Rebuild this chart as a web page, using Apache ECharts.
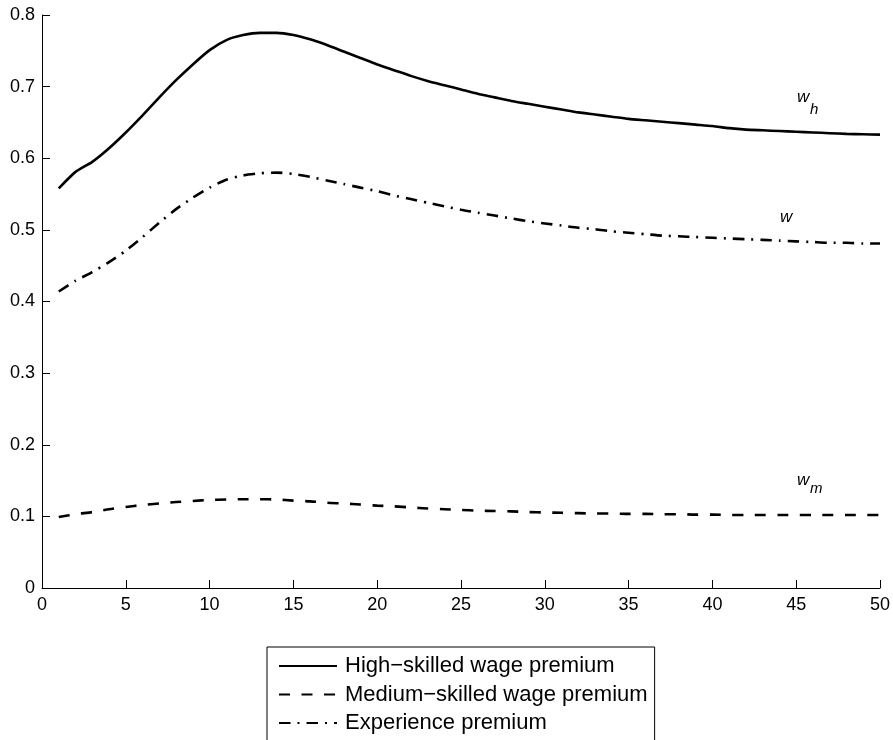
<!DOCTYPE html>
<html>
<head>
<meta charset="utf-8">
<script src="https://cdn.jsdelivr.net/npm/echarts@6/dist/echarts.min.js"></script>
<style>
html,body{margin:0;padding:0;background:#fff;}
#chart{width:893px;height:740px;}
</style>
</head>
<body>
<div id="chart"></div>
<script>
var years = [1,2,3,4,5,6,7,8,9,10,11,12,13,14,15,16,17,18,19,20,21,22,23,24,25,26,27,28,29,30,31,32,33,34,35,36,37,38,39,40,41,42,43,44,45,46,47,48,49,50];

var highSkilled = [0.558,0.581,0.595,0.614,0.636,0.660,0.685,0.709,0.731,0.751,
                   0.765,0.772,0.775,0.775,0.772,0.766,0.758,0.749,0.740,0.731,
                   0.723,0.715,0.708,0.702,0.696,0.690,0.685,0.680,0.676,0.672,
                   0.668,0.664,0.661,0.658,0.655,0.653,0.651,0.649,0.647,0.645,
                   0.642,0.640,0.639,0.638,0.637,0.636,0.635,0.634,0.6335,0.633];

var mediumSkilled = [0.099,0.103,0.106,0.110,0.113,0.116,0.118,0.120,0.1215,0.123,
                     0.1235,0.124,0.124,0.1235,0.122,0.121,0.119,0.118,0.1165,0.115,
                     0.114,0.1125,0.111,0.110,0.109,0.108,0.1075,0.107,0.106,0.1055,
                     0.105,0.1045,0.104,0.104,0.1035,0.1035,0.103,0.103,0.1025,0.1025,
                     0.102,0.102,0.102,0.102,0.102,0.102,0.102,0.102,0.102,0.102];

var experience = [0.414,0.429,0.441,0.455,0.471,0.490,0.510,0.529,0.545,0.559,
                  0.570,0.576,0.579,0.580,0.578,0.574,0.569,0.564,0.559,0.554,
                  0.548,0.543,0.538,0.533,0.528,0.524,0.520,0.516,0.512,0.509,
                  0.506,0.503,0.501,0.498,0.496,0.494,0.492,0.491,0.490,0.489,
                  0.488,0.487,0.486,0.485,0.484,0.483,0.482,0.482,0.481,0.481];

var seriesNames = ['High\u2212skilled wage premium', 'Medium\u2212skilled wage premium', 'Experience premium'];
var xTicks = [0,5,10,15,20,25,30,35,40,45,50];
var yTicks = [0,0.1,0.2,0.3,0.4,0.5,0.6,0.7,0.8];

var FONT = '"Liberation Sans", Arial, Helvetica, sans-serif';

function pairs(vals){ return years.map(function(x,i){ return [x, vals[i]]; }); }

function note(text, coord, size){
  return {
    coord: coord, symbol: 'circle', symbolSize: 0,
    label: { show: true, position: 'right', distance: 0, formatter: text,
             fontFamily: FONT, fontStyle: 'italic', fontSize: size, color: '#000' }
  };
}

var chart = echarts.init(document.getElementById('chart'), null, {renderer:'canvas'});
chart.setOption({
  animation: false,
  backgroundColor: '#fff',
  grid: { left: 42, right: 13, top: 15, bottom: 152, containLabel: false },
  xAxis: {
    type: 'value', min: xTicks[0], max: xTicks[xTicks.length-1], interval: 5,
    axisLine: { show: true, lineStyle: { color: '#000', width: 1 } },
    axisTick: { show: true, inside: true, length: 8, lineStyle: { color: '#000' } },
    axisLabel: { color: '#000', fontSize: 18, fontFamily: FONT, margin: 8 },
    splitLine: { show: false }
  },
  yAxis: {
    type: 'value', min: yTicks[0], max: yTicks[yTicks.length-1], interval: 0.1,
    axisLine: { show: true, lineStyle: { color: '#000', width: 1 } },
    axisTick: { show: true, inside: true, length: 8, lineStyle: { color: '#000' } },
    axisLabel: { color: '#000', fontSize: 18, fontFamily: FONT, margin: 7,
                 formatter: function(v){ return v === 0 ? '0' : v.toFixed(1); } },
    splitLine: { show: false }
  },
  legend: {
    orient: 'vertical', left: 267, top: 647, height: 200, width: 400,
    backgroundColor: '#fff', borderColor: '#000', borderWidth: 1,
    padding: [8, 7, 30, 11],
    itemWidth: 58, itemHeight: 14, itemGap: 6.5,
    itemStyle: { opacity: 0, borderWidth: 0 },
    textStyle: { color: '#000', fontSize: 22, fontFamily: FONT, lineHeight: 22, padding: [0,0,0,3] },
    data: seriesNames
  },
  series: [
    {
      name: seriesNames[0], type: 'line', data: pairs(highSkilled),
      showSymbol: false, symbol: 'none', smooth: 0.2,
      lineStyle: { color: '#000', width: 2.6, type: 'solid' },
      itemStyle: { color: '#000' },
      markPoint: { silent: true, data: [ note('w', [45.05, 0.685], 17), note('h', [45.82, 0.668], 15) ] }
    },
    {
      name: seriesNames[1], type: 'line', data: pairs(mediumSkilled),
      showSymbol: false, symbol: 'none', smooth: 0.2,
      lineStyle: { color: '#000', width: 2.6, type: [11, 11.5] },
      itemStyle: { color: '#000' },
      markPoint: { silent: true, data: [ note('w', [45.05, 0.151], 17), note('m', [45.82, 0.139], 15) ] }
    },
    {
      name: seriesNames[2], type: 'line', data: pairs(experience),
      showSymbol: false, symbol: 'none', smooth: 0.2,
      lineStyle: { color: '#000', width: 2.6, type: [11.5, 7, 2, 7] },
      itemStyle: { color: '#000' },
      markPoint: { silent: true, data: [ note('w', [44.03, 0.518], 17) ] }
    }
  ]
});
</script>
</body>
</html>
